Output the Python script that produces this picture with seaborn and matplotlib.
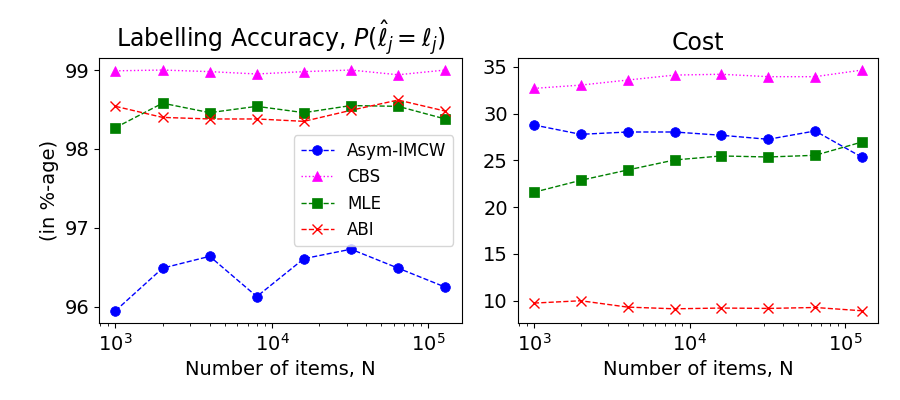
import matplotlib
matplotlib.use("Agg")
import matplotlib.pyplot as plt
import seaborn as sns
import numpy as np
import pandas as pd

sns.set_style("ticks", rc={
    "text.color": "black", "axes.labelcolor": "black",
    "xtick.color": "black", "ytick.color": "black",
    "axes.edgecolor": "black", "axes.linewidth": 0.8,
    "xtick.major.size": 3.5, "ytick.major.size": 3.5,
    "xtick.minor.size": 2, "ytick.minor.size": 2,
    "xtick.major.width": 0.8, "ytick.major.width": 0.8,
    "xtick.minor.width": 0.6, "ytick.minor.width": 0.6,
})
plt.rcParams['font.family'] = ['DejaVu Sans']
plt.rcParams['mathtext.fontset'] = 'dejavusans'

n_items = [1000, 2000, 4000, 8000, 16000, 32000, 64000, 128000]
methods = ["Asym-IMCW", "CBS", "MLE", "ABI"]

acc_asym = [95.95, 96.49, 96.64, 96.13, 96.61, 96.73, 96.49, 96.25]
acc_cbs = [98.99, 99.00, 98.98, 98.95, 98.98, 99.00, 98.94, 99.00]
acc_mle = [98.27, 98.58, 98.46, 98.54, 98.46, 98.55, 98.54, 98.38]
acc_abi = [98.54, 98.40, 98.38, 98.38, 98.35, 98.49, 98.62, 98.48]

cost_asym = [28.78, 27.78, 28.03, 28.03, 27.68, 27.25, 28.14, 25.33]
cost_cbs = [32.69, 33.04, 33.58, 34.11, 34.20, 33.94, 33.94, 34.65]
cost_mle = [21.59, 22.87, 23.97, 25.04, 25.47, 25.36, 25.54, 26.96]
cost_abi = [9.75, 10.00, 9.32, 9.14, 9.22, 9.18, 9.28, 8.93]

styles = {
    "Asym-IMCW": dict(color="blue", marker="o", ls="--"),
    "CBS": dict(color="magenta", marker="^", ls=":"),
    "MLE": dict(color="green", marker="s", ls="--"),
    "ABI": dict(color="red", marker="x", ls="--"),
}

acc = {"Asym-IMCW": acc_asym, "CBS": acc_cbs, "MLE": acc_mle, "ABI": acc_abi}
cost = {"Asym-IMCW": cost_asym, "CBS": cost_cbs, "MLE": cost_mle, "ABI": cost_abi}

fig = plt.figure(figsize=(9, 4), dpi=100)
ax1 = fig.add_axes([0.110, 0.193, 0.403, 0.662])
ax2 = fig.add_axes([0.575, 0.193, 0.401, 0.662])

for ax, data in [(ax1, acc), (ax2, cost)]:
    for m in methods:
        st = styles[m]
        df = pd.DataFrame({"N": n_items, "v": data[m]})
        sns.lineplot(data=df, x="N", y="v", ax=ax, color=st["color"],
                     marker=st["marker"], linestyle=st["ls"], linewidth=1,
                     markersize=7, markeredgecolor=st["color"],
                     markeredgewidth=1 if st["marker"] == "x" else 0.5,
                     label=m if ax is ax1 else None)
    ax.set_xscale("log")
    ax.set_xlabel("Number of items, N", fontsize=14)
    ax.tick_params(labelsize=14)
    for s in ax.spines.values():
        s.set_visible(True)
        s.set_color("black")

ax1.set_ylabel("(in %-age)", fontsize=14)
ax2.set_ylabel("")
ax1.set_title(r"Labelling Accuracy, $P(\hat{\ell}_j = \ell_j)$", fontsize=17)
ax2.set_title("Cost", fontsize=17)
ax1.set_yticks([96, 97, 98, 99])
ax2.set_yticks([10, 15, 20, 25, 30, 35])
ax1.legend(loc="center right", fontsize=12, framealpha=0.8)

fig.savefig("out.png", dpi=100)
